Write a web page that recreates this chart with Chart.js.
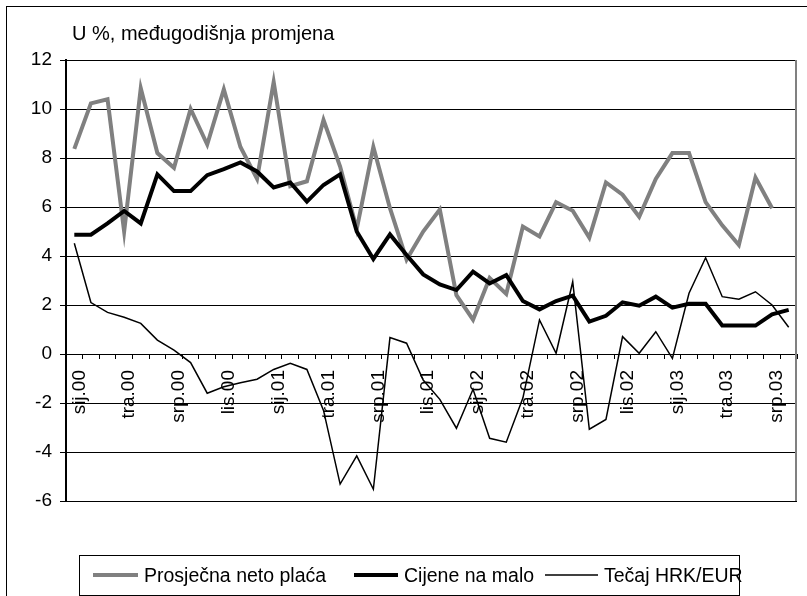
<!DOCTYPE html>
<html>
<head>
  <meta charset="utf-8">
  <script src="https://cdn.jsdelivr.net/npm/chart.js@4"></script>
  <style>
    html, body { margin: 0; padding: 0; background: #fff; }
    .wrap { position: relative; width: 807px; height: 596px; overflow: hidden; }
    .frame { position: absolute; left: 6px; top: 6px; width: 900px; height: 700px; border-left: 1px solid #000; border-top: 1px solid #000; }
    canvas { position: absolute; left: 0; top: 0; }
  </style>
</head>
<body>
  <div class="wrap">
    <div class="frame"></div>
    <canvas id="chart" width="807" height="596"></canvas>
  </div>

  <script>
    // months, sij.00 .. kol.03
    const months = [
      "sij.00", "velj.00", "ožu.00", "tra.00", "svi.00", "lip.00", "srp.00", "kol.00", "ruj.00", "lis.00", "stu.00", "pro.00",
      "sij.01", "velj.01", "ožu.01", "tra.01", "svi.01", "lip.01", "srp.01", "kol.01", "ruj.01", "lis.01", "stu.01", "pro.01",
      "sij.02", "velj.02", "ožu.02", "tra.02", "svi.02", "lip.02", "srp.02", "kol.02", "ruj.02", "lis.02", "stu.02", "pro.02",
      "sij.03", "velj.03", "ožu.03", "tra.03", "svi.03", "lip.03", "srp.03", "kol.03"
    ];
    // only every third month gets a label on the axis
    const shownLabels = ["sij.00", "tra.00", "srp.00", "lis.00", "sij.01", "tra.01", "srp.01", "lis.01",
      "sij.02", "tra.02", "srp.02", "lis.02", "sij.03", "tra.03", "srp.03"];

    const placa = [8.37, 10.23, 10.4, 5.0, 10.85, 8.2, 7.6, 10.0, 8.55, 10.8, 8.45, 7.15,
      11.1, 6.85, 7.05, 9.55, 7.65, 5.1, 8.45, 5.95, 3.85, 5.0, 5.9, 2.4,
      1.4, 3.1, 2.45, 5.2, 4.8, 6.2, 5.85, 4.75, 7.0, 6.5, 5.6, 7.15,
      8.2, 8.2, 6.2, 5.25, 4.45, 7.2, 5.95, null];
    const cijene = [4.87, 4.87, 5.33, 5.84, 5.33, 7.33, 6.65, 6.65, 7.3, 7.55, 7.82, 7.45,
      6.8, 7.0, 6.22, 6.9, 7.33, 5.0, 3.88, 4.88, 4.04, 3.25, 2.84, 2.61,
      3.36, 2.88, 3.22, 2.16, 1.82, 2.16, 2.38, 1.32, 1.56, 2.11, 1.97, 2.34,
      1.89, 2.05, 2.05, 1.16, 1.16, 1.16, 1.62, 1.8];
    const tecaj = [4.52, 2.1, 1.7, 1.5, 1.25, 0.57, 0.16, -0.35, -1.6, -1.34, -1.17, -1.03,
      -0.63, -0.38, -0.63, -2.3, -5.31, -4.16, -5.52, 0.67, 0.44, -1.06, -1.85, -3.03,
      -1.44, -3.44, -3.6, -1.8, 1.39, 0.03, 2.95, -3.07, -2.67, 0.71, 0.03, 0.91,
      -0.18, 2.48, 3.93, 2.34, 2.24, 2.54, 2.0, 1.09];

    const seriesNames = ["Prosječna neto plaća", "Cijene na malo", "Tečaj HRK/EUR"];
    const yTitle = "U %, međugodišnja promjena";
    const yMin = -6, yMax = 12, yStep = 2;

    const FONT = "'Liberation Sans', Arial, sans-serif";

    // title text, plot right border and the boxed legend
    const decor = {
      id: "decor",
      afterDraw(chart) {
        const ctx = chart.ctx;
        const area = chart.chartArea;
        ctx.save();
        ctx.strokeStyle = "#808080";
        ctx.lineWidth = 2;
        ctx.beginPath();
        ctx.moveTo(area.right - 1, area.top);
        ctx.lineTo(area.right - 1, area.bottom);
        ctx.stroke();

        ctx.fillStyle = "#000";
        ctx.font = "20px " + FONT;
        ctx.textBaseline = "alphabetic";
        ctx.fillText(yTitle, 72, 40);

        // legend
        ctx.strokeStyle = "#000";
        ctx.lineWidth = 1;
        ctx.strokeRect(79.5, 555.5, 660, 40);
        const items = [[93, 45], [354, 44], [545, 53]];
        chart.data.datasets.forEach((ds, i) => {
          const [x, w] = items[i];
          ctx.strokeStyle = ds.borderColor;
          ctx.lineWidth = ds.borderWidth;
          ctx.beginPath();
          ctx.moveTo(x, 575);
          ctx.lineTo(x + w, 575);
          ctx.stroke();
          ctx.fillStyle = "#000";
          ctx.font = "19.5px " + FONT;
          ctx.fillText(ds.label, x + w + 6, 582);
        });
        ctx.restore();
      }
    };

    new Chart(document.getElementById("chart"), {
      type: "line",
      data: {
        labels: months,
        datasets: [
          { label: seriesNames[0], data: placa, borderColor: "#808080", borderWidth: 4, order: 3 },
          { label: seriesNames[1], data: cijene, borderColor: "#000000", borderWidth: 4, order: 2 },
          { label: seriesNames[2], data: tecaj, borderColor: "#000000", borderWidth: 1.5, order: 1 },
        ],
      },
      options: {
        responsive: false,
        animation: false,
        layout: { padding: { left: 0, top: 60, right: 10, bottom: 95 } },
        elements: {
          point: { radius: 0 },
          line: { tension: 0, borderJoinStyle: "miter", borderCapStyle: "butt" },
        },
        scales: {
          x: {
            type: "category",
            position: { y: 0 },
            offset: true,
            afterFit: (scale) => { scale.paddingLeft = 0; scale.paddingRight = 0; },
            grid: { display: true, drawOnChartArea: false, drawTicks: true, tickLength: 4, tickColor: "#000", offset: true },
            border: { display: true, color: "#000", width: 1 },
            ticks: {
              autoSkip: false,
              minRotation: 90,
              maxRotation: 90,
              padding: 12,
              labelOffset: 5,
              color: "#000",
              font: { family: FONT, size: 19 },
              callback: function (value, index) {
                const lab = months[index];
                return shownLabels.includes(lab) ? lab : "";
              },
            },
          },
          y: {
            min: yMin,
            max: yMax,
            afterFit: (scale) => { scale.width = 66; },
            grid: { color: "#000", lineWidth: 1, tickLength: 6, tickColor: "#000" },
            border: { display: true, color: "#000", width: 2 },
            ticks: {
              stepSize: yStep,
              padding: 8,
              color: "#000",
              font: { family: FONT, size: 19 },
            },
          },
        },
        plugins: {
          legend: { display: false },
          tooltip: { enabled: false },
        },
      },
      plugins: [decor],
    });
  </script>
</body>
</html>
